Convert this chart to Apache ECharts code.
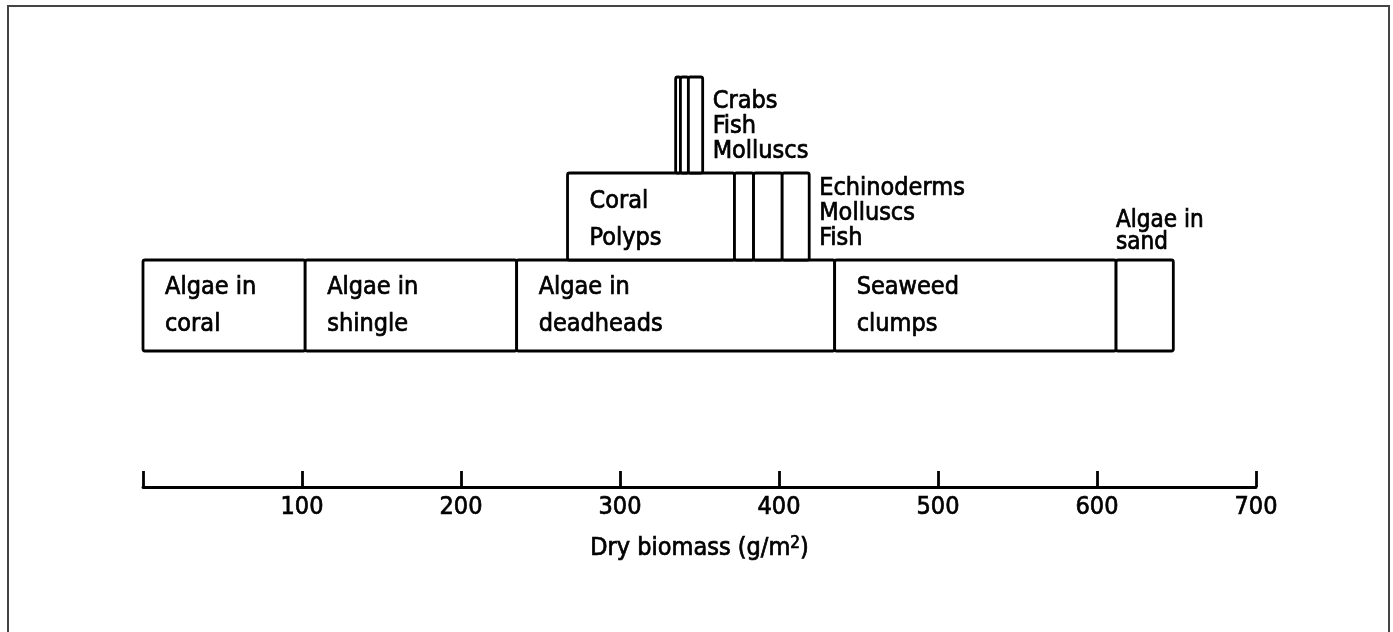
<!DOCTYPE html>
<html>
<head>
<meta charset="utf-8">
<title>Dry biomass</title>
<script src="https://cdn.jsdelivr.net/npm/echarts/dist/echarts.min.js"></script>
<style>
html, body { margin: 0; padding: 0; background: #fff; }
#chart { width: 1393px; height: 632px; }
</style>
</head>
<body>
<div id="chart"></div>
<script>
// segment edges along the dry biomass axis (g/m2), one list per layer
var bottomEdges = [0, 102, 235, 435, 612, 648];
var bottomNames = ["Algae in\ncoral", "Algae in\nshingle", "Algae in\ndeadheads", "Seaweed\nclumps", "Algae in\nsand"];
var middleEdges = [267, 372, 384, 402, 419];
var middleNames = ["Coral\nPolyps", "Echinoderms", "Molluscs", "Fish"];
var topEdges = [335, 338, 343, 352];
var topNames = ["Crabs", "Fish", "Molluscs"];
var xTicks = [0, 100, 200, 300, 400, 500, 600, 700];

var FONT = '"DejaVu Sans Condensed", "DejaVu Sans", sans-serif';
// vertical extent of each layer, in grid units (bottom, middle, top)
var rowBounds = [[0, 91], [91, 178], [178, 274]];

var layers = [
  { edges: bottomEdges, names: bottomNames },
  { edges: middleEdges, names: middleNames },
  { edges: topEdges, names: topNames }
];

var boxes = [];
var labels = [];
layers.forEach(function (layer, row) {
  var run = [];
  for (var i = 0; i < layer.names.length; i++) {
    var a = layer.edges[i], b = layer.edges[i + 1];
    boxes.push([a, b, row]);
    if (b - a > 60) {
      labels.push({ x: a, row: row, text: layer.names[i], kind: "inside" });
    } else {
      run.push(i);
    }
  }
  if (run.length) {
    var first = run[0], last = run[run.length - 1];
    var txt = run.map(function (k) { return layer.names[k]; }).join("\n");
    if (row === 0) {
      labels.push({ x: layer.edges[first], row: row, text: txt, kind: "above" });
    } else {
      labels.push({ x: layer.edges[last + 1], row: row, text: txt, kind: "right" });
    }
  }
});

var chart = echarts.init(document.getElementById("chart"));

function renderBox(params, api) {
  var row = api.value(2);
  var p0 = api.coord([api.value(0), rowBounds[row][1]]);
  var p1 = api.coord([api.value(1), rowBounds[row][0]]);
  return {
    type: "rect",
    shape: { x: p0[0], y: p0[1], width: p1[0] - p0[0], height: p1[1] - p0[1], r: 2 },
    style: { fill: "#fff", stroke: "#000", lineWidth: 2.8 }
  };
}

function renderLabel(params, api) {
  var lb = labels[params.dataIndex];
  var b = rowBounds[lb.row];
  var p = api.coord([lb.x, (b[0] + b[1]) / 2]);
  var top = api.coord([lb.x, b[1]]);
  var st = {
    text: lb.text, fill: "#000", fontFamily: FONT, fontSize: 25,
    align: "left", verticalAlign: "middle",
    stroke: "#000", lineWidth: 0.7
  };
  var x = p[0], y = p[1];
  if (lb.kind === "inside") {
    x += 22; st.lineHeight = 37;
    if (lb.row === 1) y += 3;
  } else if (lb.kind === "right") {
    x += 10; st.lineHeight = 25;
    y += lb.row === 2 ? 1 : -3;
  } else {
    y = top[1] - 6; st.verticalAlign = "bottom"; st.fontSize = 24; st.lineHeight = 22;
  }
  return { type: "text", x: x, y: y, style: st };
}

chart.setOption({
  backgroundColor: "#fff",
  animation: false,
  graphic: [{
    type: "rect",
    shape: { x: 8, y: 6, width: 1381, height: 660 },
    style: { fill: "none", stroke: "#444", lineWidth: 2 },
    silent: true
  }],
  grid: [
    { left: 143, right: 137, top: 77, height: 274 },
    { left: 143, right: 137, top: 486, height: 1 }
  ],
  xAxis: [
    { gridIndex: 0, type: "value", min: 0, max: 700, show: false },
    {
      gridIndex: 1, type: "value", min: xTicks[0], max: xTicks[xTicks.length - 1],
      interval: xTicks[1] - xTicks[0],
      axisLine: { lineStyle: { color: "#000", width: 2.8 } },
      axisTick: { inside: true, length: 16, lineStyle: { color: "#000", width: 2.8 } },
      splitLine: { show: false },
      axisLabel: {
        margin: 8, color: "#000", fontFamily: FONT, fontSize: 25,
        textBorderColor: "#000", textBorderWidth: 0.7,
        formatter: function (v) { return v === 0 ? "" : String(v); }
      },
      name: "Dry biomass (g/m{sup|2})",
      nameLocation: "middle",
      nameGap: 48,
      nameTextStyle: {
        color: "#000", fontFamily: FONT, fontSize: 25,
        textBorderColor: "#000", textBorderWidth: 0.7,
        rich: {
          sup: {
            fontSize: 17, verticalAlign: "top", padding: [0, 0, 10, 0], fontFamily: FONT,
            color: "#000", textBorderColor: "#000", textBorderWidth: 0.7
          }
        }
      }
    }
  ],
  yAxis: [
    { gridIndex: 0, type: "value", min: 0, max: 274, show: false },
    { gridIndex: 1, type: "value", min: 0, max: 1, show: false }
  ],
  series: [
    { type: "custom", xAxisIndex: 0, yAxisIndex: 0, renderItem: renderBox, data: boxes, silent: true },
    {
      type: "custom", xAxisIndex: 0, yAxisIndex: 0, renderItem: renderLabel, silent: true,
      data: labels.map(function (l) { return [l.x, l.row]; })
    }
  ]
});
</script>
</body>
</html>
